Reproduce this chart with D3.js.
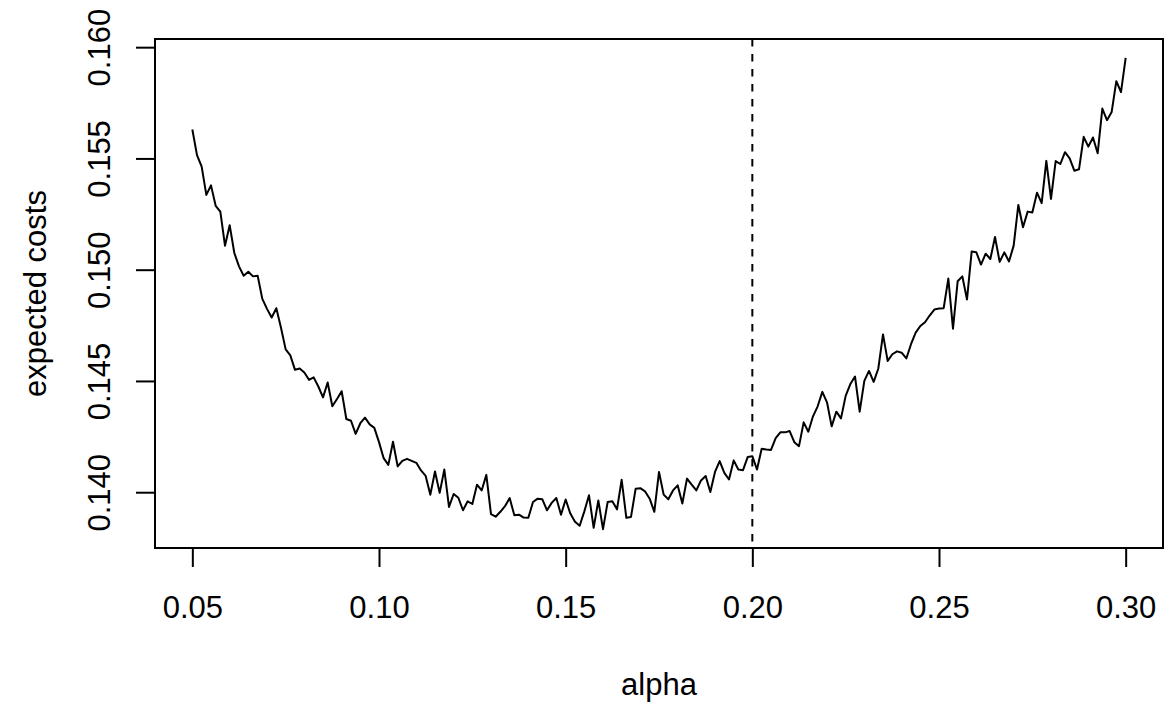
<!DOCTYPE html>
<html>
<head>
<meta charset="utf-8">
<script src="https://cdn.jsdelivr.net/npm/d3@7"></script>
<style>
  body { margin: 0; background: #fff; }
  text { font-family: "Liberation Sans", Arial, Helvetica, sans-serif; fill: #000; }
</style>
</head>
<body>
<script>
// alpha grid: 0.05 to 0.30, 201 points
var alphaStart = 0.05, alphaEnd = 0.30, alphaCount = 201;
var costs = [
  0.15630, 0.15515, 0.15463, 0.15336, 0.15379, 0.15287, 0.15261, 0.15108, 0.15200, 0.15075,
  0.15015, 0.14973, 0.14991, 0.14970, 0.14973, 0.14869, 0.14824, 0.14785, 0.14827, 0.14739,
  0.14642, 0.14615, 0.14550, 0.14556, 0.14538, 0.14505, 0.14516, 0.14475, 0.14426, 0.14493,
  0.14386, 0.14419, 0.14454, 0.14329, 0.14321, 0.14262, 0.14310, 0.14335, 0.14305, 0.14289,
  0.14225, 0.14153, 0.14123, 0.14227, 0.14116, 0.14141, 0.14150, 0.14141, 0.14132, 0.14098,
  0.14073, 0.13989, 0.14093, 0.13997, 0.14102, 0.13934, 0.13992, 0.13975, 0.13919, 0.13959,
  0.13947, 0.14034, 0.14008, 0.14078, 0.13901, 0.13890, 0.13912, 0.13937, 0.13974, 0.13896,
  0.13899, 0.13886, 0.13885, 0.13956, 0.13971, 0.13968, 0.13919, 0.13952, 0.13974, 0.13899,
  0.13967, 0.13904, 0.13867, 0.13849, 0.13914, 0.13986, 0.13840, 0.13963, 0.13834, 0.13956,
  0.13959, 0.13923, 0.14056, 0.13885, 0.13889, 0.14016, 0.14018, 0.14004, 0.13971, 0.13912,
  0.14091, 0.13989, 0.13968, 0.14008, 0.14031, 0.13949, 0.14061, 0.14034, 0.14008, 0.14053,
  0.14073, 0.14001, 0.14091, 0.14140, 0.14087, 0.14057, 0.14143, 0.14102, 0.14099, 0.14158,
  0.14162, 0.14102, 0.14195, 0.14192, 0.14190, 0.14243, 0.14269, 0.14269, 0.14275, 0.14225,
  0.14207, 0.14314, 0.14272, 0.14341, 0.14386, 0.14451, 0.14404, 0.14296, 0.14362, 0.14332,
  0.14433, 0.14486, 0.14520, 0.14362, 0.14500, 0.14545, 0.14496, 0.14556, 0.14709, 0.14590,
  0.14620, 0.14633, 0.14627, 0.14601, 0.14665, 0.14717, 0.14747, 0.14764, 0.14794, 0.14821,
  0.14826, 0.14827, 0.14960, 0.14735, 0.14948, 0.14970, 0.14866, 0.15082, 0.15078, 0.15023,
  0.15072, 0.15048, 0.15147, 0.15035, 0.15078, 0.15037, 0.15108, 0.15291, 0.15191, 0.15261,
  0.15257, 0.15346, 0.15299, 0.15489, 0.15318, 0.15488, 0.15475, 0.15528, 0.15500, 0.15445,
  0.15451, 0.15597, 0.15553, 0.15594, 0.15523, 0.15724, 0.15672, 0.15709, 0.15847, 0.15798,
  0.15952
];
var xTicks = [0.05, 0.10, 0.15, 0.20, 0.25, 0.30];
var yTicks = [0.140, 0.145, 0.150, 0.155, 0.160];
var cutoff = 0.20;

var alphas = d3.range(alphaCount).map(function(i){ return alphaStart + i*(alphaEnd-alphaStart)/(alphaCount-1); });
var data = alphas.map(function(a,i){ return {a: a, c: costs[i]}; });

var W = 1165, H = 703;
var mLeft = 155, mRight = 1163, mTop = 39, mBottom = 548;
var fs = 31, tickLen = 19;

// R style 4% padding
function pad(ext){ var d = (ext[1]-ext[0])*0.04; return [ext[0]-d, ext[1]+d]; }

var x = d3.scaleLinear().domain(pad(d3.extent(alphas))).range([mLeft, mRight]);
var y = d3.scaleLinear().domain(pad(d3.extent(costs))).range([mBottom, mTop]);

var svg = d3.select("body").append("svg").attr("width", W).attr("height", H);

// the curve
var line = d3.line().x(function(d){ return x(d.a); }).y(function(d){ return y(d.c); });
svg.append("path")
    .datum(data)
    .attr("d", line)
    .attr("fill", "none")
    .attr("stroke", "#000")
    .attr("stroke-width", 2)
    .attr("stroke-linejoin", "round");

// vertical dashed line
svg.append("line")
    .attr("x1", x(cutoff)).attr("x2", x(cutoff))
    .attr("y1", mTop).attr("y2", mBottom)
    .attr("stroke", "#000")
    .attr("stroke-width", 2)
    .attr("stroke-dasharray", "7.5,7.5");

// box
svg.append("rect")
    .attr("x", mLeft).attr("y", mTop)
    .attr("width", mRight-mLeft).attr("height", mBottom-mTop)
    .attr("fill", "none").attr("stroke", "#000").attr("stroke-width", 2);

// x axis
var xAxis = d3.axisBottom(x).tickValues(xTicks).tickSize(tickLen).tickPadding(0)
    .tickFormat(d3.format(".2f"));
var gx = svg.append("g").attr("transform", "translate(0," + mBottom + ")").call(xAxis);
gx.select(".domain").attr("d", "M" + x(xTicks[0]) + ",0H" + x(xTicks[xTicks.length-1]))
    .attr("stroke-width", 2);
gx.selectAll(".tick line").attr("stroke-width", 2);
gx.selectAll(".tick text")
    .attr("font-size", fs).attr("font-family", "Liberation Sans, Arial, sans-serif")
    .attr("dy", null).attr("y", 70);

// y axis
var yAxis = d3.axisLeft(y).tickValues(yTicks).tickSize(tickLen).tickPadding(0)
    .tickFormat(d3.format(".3f"));
var gy = svg.append("g").attr("transform", "translate(" + mLeft + ",0)").call(yAxis);
gy.select(".domain").attr("d", "M0," + y(yTicks[0]) + "V" + y(yTicks[yTicks.length-1]))
    .attr("stroke-width", 2);
gy.selectAll(".tick line").attr("stroke-width", 2);
gy.selectAll(".tick text")
    .attr("font-size", fs).attr("font-family", "Liberation Sans, Arial, sans-serif")
    .attr("x", null).attr("dy", null)
    .attr("text-anchor", "middle")
    .attr("transform", "translate(-45,0) rotate(-90)");

// axis titles
svg.append("text")
    .attr("x", (mLeft+mRight)/2).attr("y", 695)
    .attr("text-anchor", "middle").attr("font-size", fs)
    .text("alpha");

svg.append("text")
    .attr("transform", "translate(46," + ((mTop+mBottom)/2) + ") rotate(-90)")
    .attr("text-anchor", "middle").attr("font-size", fs)
    .text("expected costs");
</script>
</body>
</html>
